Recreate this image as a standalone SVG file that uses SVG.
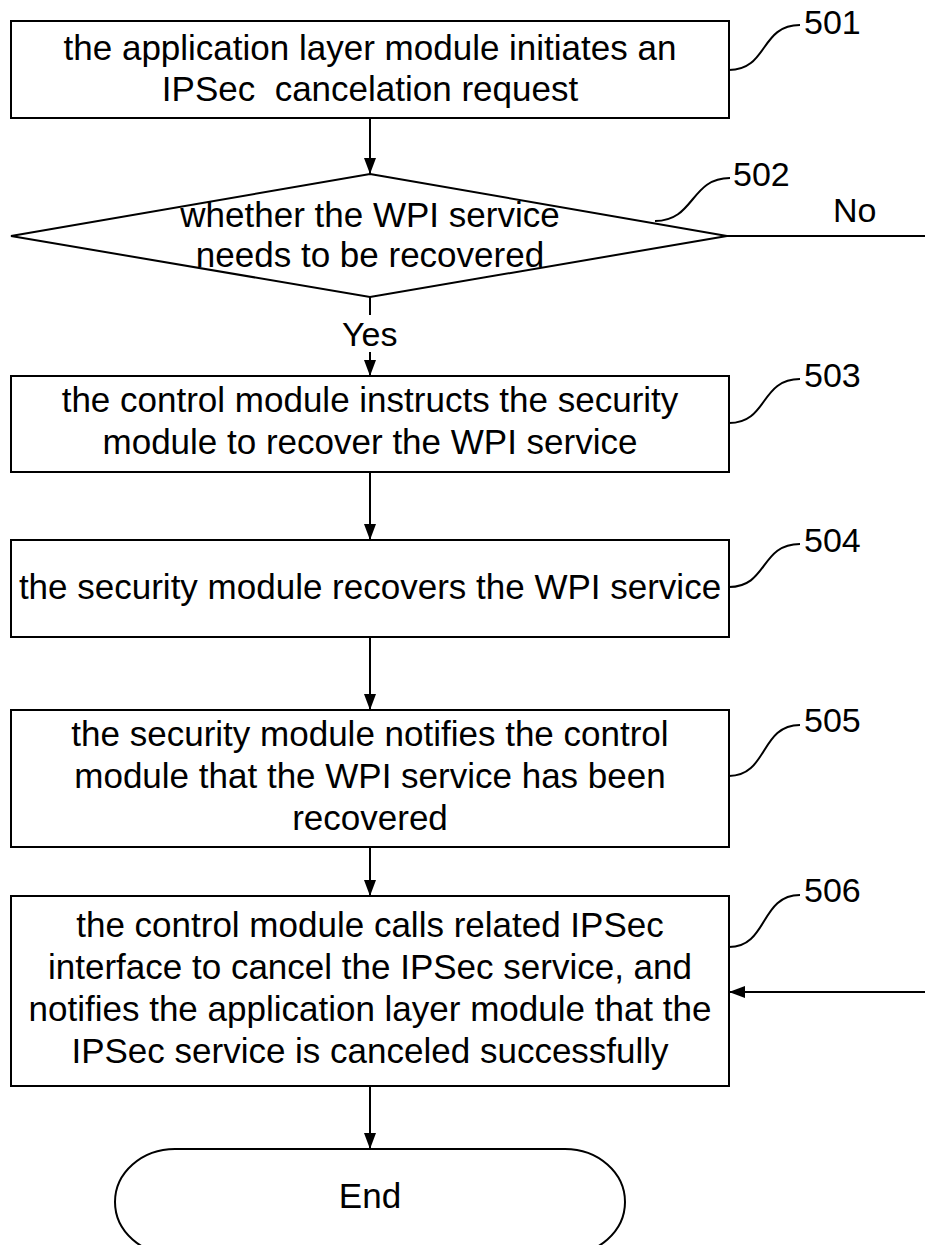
<svg xmlns="http://www.w3.org/2000/svg" width="925" height="1245" viewBox="0 0 925 1245">
<defs>
<style>
.box{fill:#fff;stroke:#000;stroke-width:2}
.t{font-family:"Liberation Sans",Arial,sans-serif;font-size:35px;fill:#000;text-anchor:middle}
.lbl{font-family:"Liberation Sans",Arial,sans-serif;font-size:34px;fill:#000}
.lead{fill:none;stroke:#000;stroke-width:2}
.con{fill:none;stroke:#000;stroke-width:2}
</style>
<marker id="ah" markerUnits="userSpaceOnUse" markerWidth="16" markerHeight="12" refX="16" refY="6" orient="auto">
<path d="M0,0 L16,6 L0,12 z" fill="#000"/>
</marker>
</defs>
<rect width="925" height="1245" fill="#fff"/>
<g id="connectors">
<line class="con" x1="370" y1="118" x2="370" y2="174" marker-end="url(#ah)"/>
<line class="con" x1="370" y1="297" x2="370" y2="315"/>
<line class="con" x1="370" y1="352" x2="370" y2="376" marker-end="url(#ah)"/>
<line class="con" x1="370" y1="472" x2="370" y2="540" marker-end="url(#ah)"/>
<line class="con" x1="370" y1="637" x2="370" y2="710" marker-end="url(#ah)"/>
<line class="con" x1="370" y1="847" x2="370" y2="896" marker-end="url(#ah)"/>
<line class="con" x1="370" y1="1086" x2="370" y2="1149" marker-end="url(#ah)"/>
<line class="con" x1="727" y1="236" x2="925" y2="236"/>
<line class="con" x1="925" y1="992" x2="729" y2="992" marker-end="url(#ah)"/>
<text class="lbl" x="833" y="222">No</text>
<text class="lbl" x="342" y="346">Yes</text>
</g>
<g id="n501">
<rect class="box" x="11" y="21" width="718" height="97"/>
<text class="t" x="370" y="60">the application layer module initiates an</text>
<text class="t" x="370" y="101" xml:space="preserve">IPSec  cancelation request</text>
<path class="lead" d="M729,70 C768,70 760,25 800,25"/>
<text class="lbl" x="804" y="34">501</text>
</g>
<g id="n502">
<polygon class="box" points="370,174 727,236 370,297 11,236" fill="none"/>
<text class="t" x="370" y="227">whether the WPI service</text>
<text class="t" x="370" y="267">needs to be recovered</text>
<path class="lead" d="M655,221 C695,221 690,178 730,178"/>
<text class="lbl" x="733" y="186">502</text>
</g>
<g id="n503">
<rect class="box" x="11" y="376" width="718" height="96"/>
<text class="t" x="370" y="412">the control module instructs the security</text>
<text class="t" x="370" y="454">module to recover the WPI service</text>
<path class="lead" d="M729,423 C768,423 760,379 800,379"/>
<text class="lbl" x="804" y="387">503</text>
</g>
<g id="n504">
<rect class="box" x="11" y="540" width="718" height="97"/>
<text class="t" x="370" y="599">the security module recovers the WPI service</text>
<path class="lead" d="M729,587 C768,587 760,544 800,544"/>
<text class="lbl" x="804" y="552">504</text>
</g>
<g id="n505">
<rect class="box" x="11" y="710" width="718" height="137"/>
<text class="t" x="370" y="746">the security module notifies the control</text>
<text class="t" x="370" y="788">module that the WPI service has been</text>
<text class="t" x="370" y="830">recovered</text>
<path class="lead" d="M729,776 C768,776 760,725 800,725"/>
<text class="lbl" x="804" y="732">505</text>
</g>
<g id="n506">
<rect class="box" x="11" y="896" width="718" height="190"/>
<text class="t" x="370" y="937">the control module calls related IPSec</text>
<text class="t" x="370" y="979">interface to cancel the IPSec service, and</text>
<text class="t" x="370" y="1021">notifies the application layer module that the</text>
<text class="t" x="370" y="1063">IPSec service is canceled successfully</text>
<path class="lead" d="M729,947 C768,947 760,895 800,895"/>
<text class="lbl" x="804" y="902">506</text>
</g>
<g id="end">
<rect class="box" x="115" y="1149" width="510" height="106" rx="60" ry="53"/>
<text class="t" x="370" y="1208">End</text>
</g>
</svg>
